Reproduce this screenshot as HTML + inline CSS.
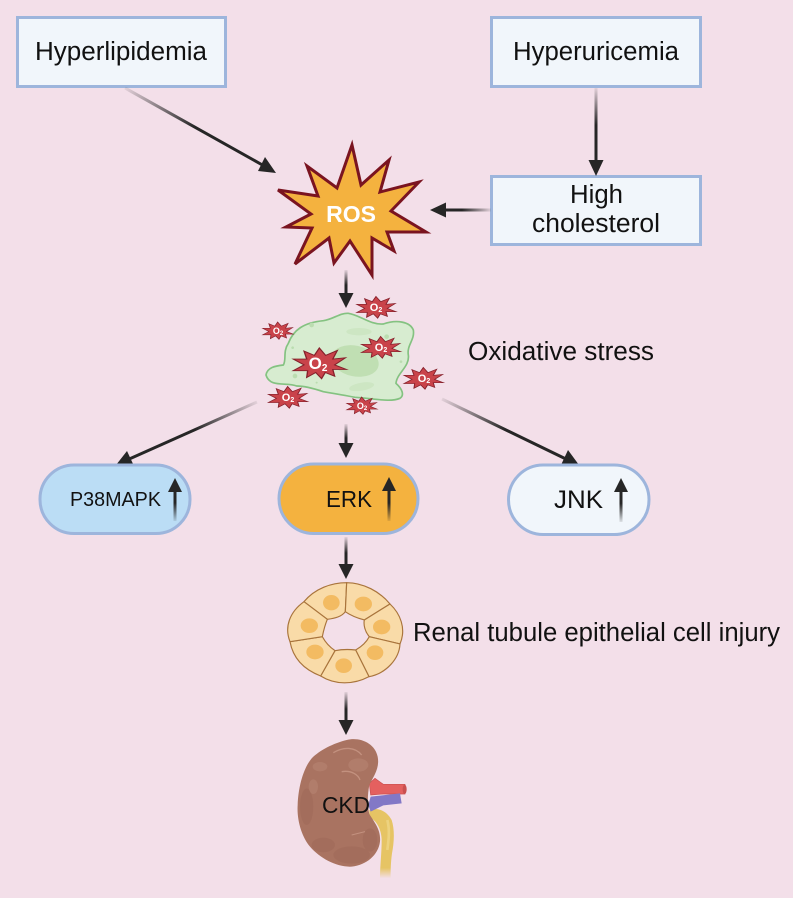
<!DOCTYPE html>
<html><head><meta charset="utf-8"><style>
html,body{margin:0;padding:0;background:#f3dfe9}
svg{display:block}
text{font-family:"Liberation Sans",sans-serif;fill:#111}
</style></head><body>
<svg width="793" height="898" viewBox="0 0 793 898" xmlns="http://www.w3.org/2000/svg">
<defs>
<linearGradient id="g1" gradientUnits="userSpaceOnUse" x1="125" y1="88" x2="195" y2="127"><stop offset="0" stop-color="#262626" stop-opacity=".08"/><stop offset="1" stop-color="#262626"/></linearGradient>
<linearGradient id="g2" gradientUnits="userSpaceOnUse" x1="596" y1="88" x2="596" y2="125"><stop offset="0" stop-color="#262626" stop-opacity=".08"/><stop offset="1" stop-color="#262626"/></linearGradient>
<linearGradient id="g3" gradientUnits="userSpaceOnUse" x1="491" y1="210" x2="462" y2="210"><stop offset="0" stop-color="#262626" stop-opacity=".08"/><stop offset="1" stop-color="#262626"/></linearGradient>
<linearGradient id="g4" gradientUnits="userSpaceOnUse" x1="346" y1="270" x2="346" y2="285"><stop offset="0" stop-color="#262626" stop-opacity=".08"/><stop offset="1" stop-color="#262626"/></linearGradient>
<linearGradient id="g5" gradientUnits="userSpaceOnUse" x1="257" y1="402" x2="195" y2="430"><stop offset="0" stop-color="#262626" stop-opacity=".08"/><stop offset="1" stop-color="#262626"/></linearGradient>
<linearGradient id="g6" gradientUnits="userSpaceOnUse" x1="346" y1="424" x2="346" y2="438"><stop offset="0" stop-color="#262626" stop-opacity=".08"/><stop offset="1" stop-color="#262626"/></linearGradient>
<linearGradient id="g7" gradientUnits="userSpaceOnUse" x1="442" y1="399" x2="505" y2="430"><stop offset="0" stop-color="#262626" stop-opacity=".08"/><stop offset="1" stop-color="#262626"/></linearGradient>
<linearGradient id="g8" gradientUnits="userSpaceOnUse" x1="346" y1="537" x2="346" y2="553"><stop offset="0" stop-color="#262626" stop-opacity=".08"/><stop offset="1" stop-color="#262626"/></linearGradient>
<linearGradient id="g9" gradientUnits="userSpaceOnUse" x1="346" y1="692" x2="346" y2="709"><stop offset="0" stop-color="#262626" stop-opacity=".08"/><stop offset="1" stop-color="#262626"/></linearGradient>
<linearGradient id="up" x1="0" y1="1" x2="0" y2="0"><stop offset="0" stop-color="#262626" stop-opacity=".1"/><stop offset=".5" stop-color="#262626"/></linearGradient>
<linearGradient id="ur" x1="0" y1="0" x2="0" y2="1"><stop offset=".85" stop-color="#e6c464"/><stop offset="1" stop-color="#e6c464" stop-opacity="0"/></linearGradient>
<polygon id="st" points="0,-50 14,-26 40,-42 30,-14 58,-18 34,5 60,20 30,20 34,42 13,30 5,50 -8,30 -28,46 -26,24 -58,24 -34,5 -58,-14 -28,-14 -34,-40 -11,-26" fill="#c9434a" stroke="#85202b" stroke-width="3" stroke-linejoin="miter"/>
</defs>
<rect width="793" height="898" fill="#f3dfe9"/>

<!-- boxes -->
<g fill="#f1f6fb" stroke="#9db5dc" stroke-width="3">
<rect x="17.5" y="17.5" width="208" height="69"/>
<rect x="491.5" y="17.5" width="209" height="69"/>
<rect x="491.5" y="176.5" width="209" height="68"/>
</g>
<text x="35" y="60" font-size="25.5" textLength="172" lengthAdjust="spacingAndGlyphs">Hyperlipidemia</text>
<text x="513" y="60" font-size="25.5" textLength="166" lengthAdjust="spacingAndGlyphs">Hyperuricemia</text>
<text x="570" y="203" font-size="25.5" textLength="53" lengthAdjust="spacingAndGlyphs">High</text>
<text x="532" y="232" font-size="25.5" textLength="128" lengthAdjust="spacingAndGlyphs">cholesterol</text>

<!-- arrows -->
<g stroke-width="3" fill="#262626">
<line x1="125" y1="88" x2="266" y2="167" stroke="url(#g1)"/><polygon points="276,173 258,171 265,157"/>
<line x1="596" y1="88" x2="596" y2="163" stroke="url(#g2)"/><polygon points="596,176 588.5,160 603.5,160"/>
<line x1="491" y1="210" x2="442" y2="210" stroke="url(#g3)"/><polygon points="430,210 446,202.5 446,217.5"/>
<line x1="346" y1="270" x2="346" y2="296" stroke="url(#g4)"/><polygon points="346,308 338.5,293 353.5,293"/>
<line x1="257" y1="402" x2="127" y2="460" stroke="url(#g5)"/><polygon points="116,465 127,451 134,466"/>
<line x1="346" y1="424" x2="346" y2="446" stroke="url(#g6)"/><polygon points="346,458 338.5,443 353.5,443"/>
<line x1="442" y1="399" x2="568" y2="460" stroke="url(#g7)"/><polygon points="579,465 561,465 568,450"/>
<line x1="346" y1="537" x2="346" y2="566" stroke="url(#g8)"/><polygon points="346,579 338.5,564 353.5,564"/>
<line x1="346" y1="692" x2="346" y2="722" stroke="url(#g9)"/><polygon points="346,735 338.5,720 353.5,720"/>
</g>

<!-- ROS -->
<polygon points="352,145 361,185 389,160 380,192 419,182 391,211 426,232 387,232 394,251 372,238 372,275 350,241 334,263 329,238 295,264 312,228 286,227 311,214 278,190 318,196 307,166 337,188" fill="#f4b23f" stroke="#7a1420" stroke-width="3" stroke-linejoin="miter"/>
<text x="351" y="222" font-size="23" font-weight="bold" text-anchor="middle" style="fill:#fff">ROS</text>

<!-- cell (zoom coords) -->
<g transform="translate(240,280) scale(.3333)">
<path d="M78,285 C82,262 105,258 130,255 C140,240 128,215 145,190 C160,150 190,128 250,122 C280,118 300,98 325,100 C360,105 390,135 430,132 C470,118 510,125 520,150 C525,180 500,195 505,225 C510,260 470,280 468,310 C485,325 495,345 480,355 C450,368 400,355 345,352 C310,345 280,340 250,335 C220,325 195,318 170,318 C140,305 90,325 78,285 Z" fill="#d7ecd0" stroke="#84c281" stroke-width="5"/>
<ellipse cx="345" cy="243" rx="72" ry="46" fill="#c0dfb3" transform="rotate(12 345 243)"/>
<ellipse cx="357" cy="155" rx="38" ry="11" fill="#cde6c3"/>
<ellipse cx="365" cy="320" rx="38" ry="12" fill="#cde6c3" transform="rotate(-10 365 320)"/>
<circle cx="215" cy="135" r="7" fill="#bbddb0"/><circle cx="165" cy="288" r="7" fill="#bbddb0"/><circle cx="440" cy="170" r="7" fill="#bbddb0"/><circle cx="158" cy="203" r="4" fill="#bbddb0"/><circle cx="483" cy="245" r="4" fill="#bbddb0"/><circle cx="230" cy="308" r="3" fill="#bbddb0"/>
<use href="#st" transform="translate(238,250) scale(1.35,.92)"/>
<use href="#st" transform="translate(408,82) scale(1,.65)"/>
<use href="#st" transform="translate(113,152) scale(.78,.52)"/>
<use href="#st" transform="translate(422,202) scale(1,.65)"/>
<use href="#st" transform="translate(550,295) scale(1,.65)"/>
<use href="#st" transform="translate(143,352) scale(1,.65)"/>
<use href="#st" transform="translate(365,377) scale(.78,.52)"/>
</g>
<g font-weight="bold" text-anchor="middle">
<text x="318" y="369" font-size="17" style="fill:#fff">O<tspan font-size="10" dy="2">2</tspan></text>
<text x="376" y="311" font-size="11" style="fill:#fff">O<tspan font-size="7" dy="1">2</tspan></text>
<text x="278" y="334" font-size="9" style="fill:#fff">O<tspan font-size="6" dy="1">2</tspan></text>
<text x="381" y="351" font-size="11" style="fill:#fff">O<tspan font-size="7" dy="1">2</tspan></text>
<text x="424" y="382" font-size="11" style="fill:#fff">O<tspan font-size="7" dy="1">2</tspan></text>
<text x="288" y="401" font-size="11" style="fill:#fff">O<tspan font-size="7" dy="1">2</tspan></text>
<text x="362" y="409" font-size="9" style="fill:#fff">O<tspan font-size="6" dy="1">2</tspan></text>
</g>
<text x="468" y="360" font-size="25.5" textLength="186" lengthAdjust="spacingAndGlyphs">Oxidative stress</text>

<!-- pills -->
<rect x="40" y="465" width="150" height="68.5" rx="34" fill="#bbddf5" stroke="#9db5dc" stroke-width="3"/>
<rect x="279" y="464" width="139" height="69.5" rx="34.7" fill="#f4b23f" stroke="#9db5dc" stroke-width="3"/>
<rect x="508.5" y="465" width="140.5" height="69.5" rx="34.7" fill="#f1f6fb" stroke="#9db5dc" stroke-width="3"/>
<text x="70" y="506" font-size="20" textLength="91" lengthAdjust="spacingAndGlyphs">P38MAPK</text>
<text x="326" y="507" font-size="23" textLength="46" lengthAdjust="spacingAndGlyphs">ERK</text>
<text x="554" y="508" font-size="25" textLength="49" lengthAdjust="spacingAndGlyphs">JNK</text>
<g fill="#262626">
<rect x="173.5" y="485" width="3" height="36" fill="url(#up)"/><polygon points="175,478 168,492 182,492"/>
<rect x="387.5" y="485" width="3" height="36" fill="url(#up)"/><polygon points="389,477 382,491 396,491"/>
<rect x="619.5" y="485" width="3" height="37" fill="url(#up)"/><polygon points="621,478 614,492 628,492"/>
</g>

<!-- tubule (zoom coords) -->
<g transform="translate(270,570) scale(.3333)" fill="#f9dba8" stroke="#a9743c" stroke-width="3.5" stroke-linejoin="round">
<path d="M230,38 C185,38 135,55 102,95 L172,148 C195,145 215,140 226,125 Z"/>
<path d="M230,38 C280,38 330,65 360,102 L283,150 C265,145 240,135 226,125 Z"/>
<path d="M360,102 C390,130 410,175 390,222 L298,200 C285,185 280,165 283,150 Z"/>
<path d="M390,222 C388,265 350,310 297,320 L257,240 C275,230 290,215 298,200 Z"/>
<path d="M297,320 C250,345 195,345 152,318 L195,242 C215,238 240,238 257,240 Z"/>
<path d="M152,318 C105,300 70,270 60,215 L157,200 C165,215 180,232 195,242 Z"/>
<path d="M60,215 C42,170 60,125 102,95 L172,148 C165,165 160,185 157,200 Z"/>
<g fill="#f3bb62" stroke="none">
<ellipse cx="184" cy="98" rx="25" ry="23"/><ellipse cx="280" cy="102" rx="26" ry="22"/><ellipse cx="335" cy="171" rx="26" ry="22"/><ellipse cx="315" cy="248" rx="25" ry="22"/><ellipse cx="221" cy="287" rx="25" ry="22"/><ellipse cx="135" cy="246" rx="26" ry="22"/><ellipse cx="118" cy="167" rx="26" ry="22"/>
</g>
</g>
<text x="413" y="641" font-size="25.5" textLength="367" lengthAdjust="spacingAndGlyphs">Renal tubule epithelial cell injury</text>

<!-- kidney (zoom coords) -->
<g transform="translate(280,730) scale(.3333)">
<path d="M268,240 C295,230 322,245 335,270 C345,300 342,340 336,370 C332,400 332,420 332,445 L300,445 C300,410 305,370 305,330 C305,300 290,270 268,262 Z" fill="url(#ur)"/>
<path d="M322,270 C330,300 326,330 322,360" fill="none" stroke="#f0d98a" stroke-width="8" opacity=".7"/>
<path d="M268,160 L285,145 L310,163 L375,163 L375,192 L310,192 L272,195 Z" fill="#e4605f" stroke="#c94f4f" stroke-width="2"/>
<ellipse cx="374" cy="178" rx="6" ry="14" fill="#c94f4f"/>
<path d="M272,200 L360,190 L365,220 L310,226 L272,245 L265,225 Z" fill="#8278c6"/>
<path d="M200,30 C240,20 285,40 293,80 C300,115 280,140 268,165 C262,195 262,230 268,252 C285,280 303,300 300,335 C295,375 260,405 215,410 C170,412 120,385 90,350 C65,320 50,270 53,225 C55,170 70,115 95,85 C120,60 160,40 200,30 Z" fill="#a97361"/>
<path d="M160,68 C190,50 225,50 245,75" fill="none" stroke="#c3917f" stroke-width="4"/>
<path d="M185,125 C215,120 235,135 240,150" fill="none" stroke="#c3917f" stroke-width="4"/>
<g fill="#9a6453" opacity=".35">
<ellipse cx="130" cy="345" rx="35" ry="22"/><ellipse cx="215" cy="375" rx="55" ry="26"/><ellipse cx="80" cy="230" rx="20" ry="55"/><ellipse cx="270" cy="330" rx="22" ry="35"/>
</g>
<g fill="#bc8a78" opacity=".45">
<ellipse cx="120" cy="110" rx="22" ry="14"/><ellipse cx="235" cy="105" rx="30" ry="20"/><ellipse cx="100" cy="170" rx="14" ry="22"/>
</g>
<path d="M215,315 L255,305" stroke="#c3917f" stroke-width="3"/>
</g>
<text x="322" y="813" font-size="23" textLength="48" lengthAdjust="spacingAndGlyphs">CKD</text>
</svg>
</body></html>
